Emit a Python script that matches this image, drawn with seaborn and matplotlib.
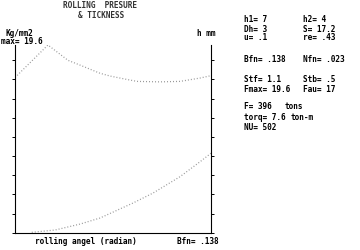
import matplotlib
matplotlib.use("Agg")
import matplotlib.pyplot as plt
import seaborn as sns
import numpy as np

# data (rolling angle in radian)
press_angle = [0.0, 0.0232, 0.0373, 0.0458, 0.0598, 0.0669, 0.0789, 0.0859, 0.1021, 0.1162, 0.1303, 0.138]
press_value = [16.2, 19.6, 18.0, 17.5, 16.65, 16.36, 16.0, 15.8, 15.75, 15.8, 16.15, 16.4]
thick_angle = [0.0118, 0.0282, 0.0458, 0.0598, 0.0831, 0.0972, 0.1162, 0.1303, 0.138]
thick_value = [0.04, 0.28, 0.9, 1.53, 3.1, 4.14, 5.85, 7.41, 8.3]

y_ticks = [0, 2, 4, 6, 8, 10, 12, 14, 16, 18]
x_ticks = [i * 0.0138 for i in range(11)]

title_lines = ["ROLLING  PRESURE", "& TICKNESS"]
left_col = [("h1= 7", 19), ("Dh= 3", 29), ("u= .1", 38), ("Bfn= .138", 59),
            ("Stf= 1.1", 79), ("Fmax= 19.6", 89), ("F= 396", 107),
            ("torq= 7.6", 117), ("NU= 502", 127)]
right_col = [("h2= 4", 19), ("S= 17.2", 29), ("re= .43", 38), ("Nfn= .023", 59),
             ("Stb= .5", 79), ("Fau= 17", 89)]
units = [("tons", 285, 107), ("ton-m", 291, 117)]

sns.set_style("white")
plt.rcParams['font.family'] = ['DejaVu Sans Mono']

W, H = 360, 250
fig = plt.figure(figsize=(3.6, 2.5), dpi=100)
ax = fig.add_axes([15 / W, 1 - 232.7 / H, (211 - 15) / W, (232.7 - 45) / H])

sns.lineplot(x=press_angle, y=press_value, ax=ax, color="#999999",
             linestyle=(0, (0.8, 1.6)), linewidth=0.9)
sns.lineplot(x=thick_angle, y=thick_value, ax=ax, color="#999999",
             linestyle=(0, (0.8, 1.6)), linewidth=0.9)

ax.set_xlim(0, 0.138)
ax.set_ylim(0, 19.6)
ax.set_xticks(x_ticks)
ax.set_yticks(y_ticks)
ax.set_xticklabels([])
ax.set_yticklabels([])
ax.yaxis.set_ticks_position('both')
ax.tick_params(direction='out', length=2.2, width=0.7, color='black')
for s in ['left', 'right', 'bottom']:
    ax.spines[s].set_visible(True)
    ax.spines[s].set_color('black')
    ax.spines[s].set_linewidth(0.8)
ax.spines['top'].set_visible(False)

fs = 5.6
kw = dict(fontsize=fs, fontweight='bold', color='black', va='center')

def ftxt(x, y, s, ha='left', **extra):
    d = dict(kw)
    d.update(extra)
    fig.text(x / W, 1 - y / H, s, ha=ha, **d)

ftxt(100, 5, title_lines[0], ha='center', color='#333333')
ftxt(101, 15, title_lines[1], ha='center', color='#333333')
ftxt(5, 33, "Kg/mm2")
ftxt(1, 42, "max= 19.6")
ftxt(197, 34, "h mm")
ftxt(35, 242, "rolling angel (radian)")
ftxt(177, 242, "Bfn= .138")

for s, y in left_col:
    ftxt(244, y, s)
for s, y in right_col:
    ftxt(303, y, s)
for s, x, y in units:
    ftxt(x, y, s)

fig.savefig("out.png", dpi=100)
